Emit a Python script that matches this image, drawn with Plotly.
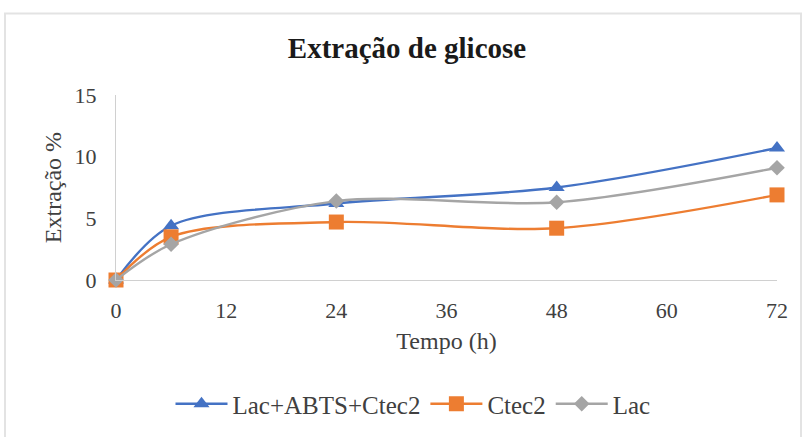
import plotly.graph_objects as go

# Time points (h) and glucose extraction (%) per treatment
tempo = [0, 6, 24, 48, 72]
lac_abts_ctec2 = [0, 4.4, 6.2, 7.5, 10.7]
ctec2 = [0, 3.5, 4.7, 4.2, 6.9]
lac = [0, 2.9, 6.4, 6.3, 9.1]

x_ticks = [0, 12, 24, 36, 48, 60, 72]
y_ticks = [0, 5, 10, 15]

W, H = 803, 437
L, R, T, B = 116, 26, 95, 156
serif = "'Times New Roman', 'Liberation Serif', 'DejaVu Serif', serif"
txt = "#404040"

fig = go.Figure()
series = [
    ("Lac+ABTS+Ctec2", lac_abts_ctec2, "#4472C4", "triangle-up", 14),
    ("Ctec2", ctec2, "#ED7D31", "square", 15),
    ("Lac", lac, "#A5A5A5", "diamond", 12),
]
for name, vals, color, sym, size in series:
    fig.add_trace(go.Scatter(
        x=tempo, y=vals, name=name, mode="lines+markers",
        line=dict(color=color, width=2.4, shape="spline", smoothing=0.9),
        marker=dict(symbol=sym, size=size, color=color),
        cliponaxis=False,
    ))

pw = W - L - R
ph = H - T - B
# light frame around the chart area
fig.add_shape(type="rect", xref="paper", yref="paper",
              x0=(5 - L) / pw, x1=(801 - L) / pw,
              y0=-(H + 3 - T - ph) / ph, y1=(ph + T - 13) / ph,
              line=dict(color="#E3E3E3", width=2), layer="below")

fig.update_layout(
    width=W, height=H,
    margin=dict(l=L, r=R, t=T, b=B),
    paper_bgcolor="white", plot_bgcolor="white",
    font=dict(family=serif, size=22, color=txt),
    title=dict(text="<b>Extração de glicose</b>", x=(407 - L) / pw, xref="paper",
               xanchor="center", y=1 - 48 / H, yanchor="middle",
               font=dict(family=serif, size=29, color="#1a1a1a")),
    xaxis=dict(range=[0, 72], tickvals=x_ticks, showgrid=False, zeroline=False,
               showline=True, linecolor="#D0D0D0", linewidth=1, ticks="",
               ticklabelstandoff=11,
               title=dict(text="Tempo (h)", standoff=9,
                          font=dict(family=serif, size=24, color=txt)),
               tickfont=dict(family=serif, size=22, color=txt)),
    yaxis=dict(range=[0, 15], tickvals=y_ticks, showgrid=False, zeroline=False,
               showline=True, linecolor="#D0D0D0", linewidth=1, ticks="",
               ticklabelstandoff=14,
               title=dict(text="Extração %", standoff=6,
                          font=dict(family=serif, size=24, color=txt)),
               tickfont=dict(family=serif, size=22, color=txt)),
    legend=dict(orientation="h", x=(413 - L) / pw, xanchor="center",
                y=-(404 - T - ph) / ph, yanchor="middle",
                font=dict(family=serif, size=25, color=txt),
                itemwidth=52, tracegroupgap=0),
    showlegend=True,
)

fig.write_html("out.html")
